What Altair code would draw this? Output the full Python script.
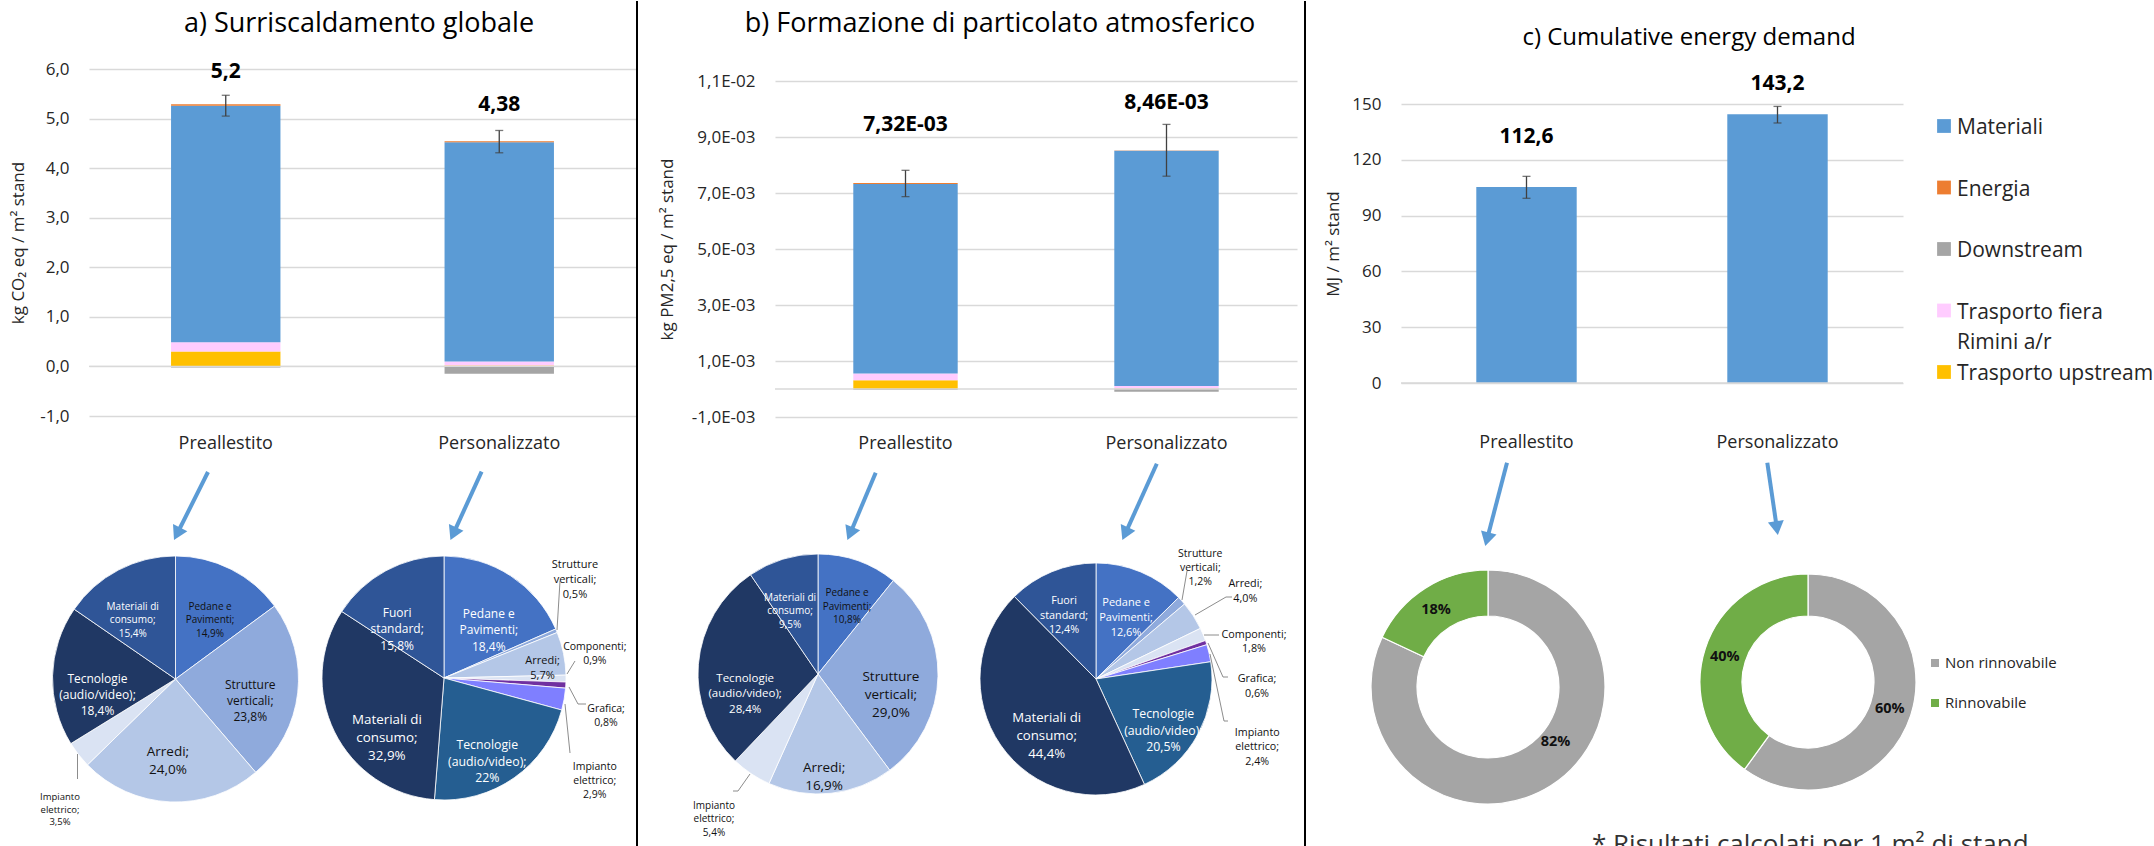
import math
import altair as alt
import pandas as pd

FONT = "Open Sans"
H = 846
TESTO = "#262626"
GRIGLIA = "#D9D9D9"
NERO, BIANCO = "#111111", "#FFFFFF"

# ---------------------------------------------------------------- dati barre
categorie = ["Preallestito", "Personalizzato"]
fasi = ["Materiali", "Energia", "Downstream", "Trasporto fiera Rimini a/r", "Trasporto upstream"]
ordine_pila = ["Trasporto upstream", "Trasporto fiera Rimini a/r", "Materiali", "Energia", "Downstream"]

# a) Surriscaldamento globale [kg CO2 eq / m2 stand]
gwp_materiali = [4.77, 4.42]
gwp_energia = [0.03, 0.02]
gwp_downstream = [-0.02, -0.15]
gwp_fiera = [0.19, 0.08]
gwp_upstream = [0.30, 0.02]
gwp_err_min = [5.05, 4.31]
gwp_err_max = [5.47, 4.76]
gwp_totale = [5.2, 4.38]

# b) Formazione di particolato atmosferico [kg PM2,5 eq / m2 stand]
pm_materiali = [6.77e-3, 8.40e-3]
pm_energia = [0.04e-3, 0.01e-3]
pm_downstream = [-0.04e-3, -0.10e-3]
pm_fiera = [0.24e-3, 0.09e-3]
pm_upstream = [0.31e-3, 0.02e-3]
pm_err_min = [6.87e-3, 7.60e-3]
pm_err_max = [7.81e-3, 9.45e-3]
pm_totale = [7.32e-3, 8.46e-3]

# c) Cumulative energy demand [MJ / m2 stand]
ced_materiali = [105.4, 144.5]
ced_energia = [0.0, 0.0]
ced_downstream = [0.0, 0.0]
ced_fiera = [0.0, 0.0]
ced_upstream = [0.0, 0.0]
ced_err_min = [99.3, 139.8]
ced_err_max = [111.1, 148.7]
ced_totale = [112.6, 143.2]

# ---------------------------------------------------------------- dati torte
voci_pre = ["Pedane e Pavimenti", "Strutture verticali", "Arredi", "Impianto elettrico",
            "Tecnologie (audio/video)", "Materiali di consumo"]
voci_pers = ["Pedane e Pavimenti", "Strutture verticali", "Arredi", "Componenti", "Grafica",
             "Impianto elettrico", "Tecnologie (audio/video)", "Materiali di consumo", "Fuori standard"]
gwp_quote_pre = [14.9, 23.8, 24.0, 3.5, 18.4, 15.4]
gwp_quote_pers = [18.4, 0.5, 5.7, 0.9, 0.8, 2.9, 22, 32.9, 15.8]
pm_quote_pre = [10.8, 29.0, 16.9, 5.4, 28.4, 9.5]
pm_quote_pers = [12.6, 1.2, 4.0, 1.8, 0.6, 2.4, 20.5, 44.4, 12.4]
fonti = ["Non rinnovabile", "Rinnovabile"]
ced_quote_pre = [82, 18]
ced_quote_pers = [60, 40]

# ---------------------------------------------------------------- stili
colori_fasi = ["#5B9BD5", "#ED7D31", "#A5A5A5", "#FFCCFF", "#FFC000"]
colori_pre = ["#4472C4", "#8FAADC", "#B4C7E7", "#DAE3F3", "#203864", "#2F5597"]
colori_pers = ["#4472C4", "#8FAADC", "#B4C7E7", "#DAE3F3", "#7030A0", "#7F7FFF",
               "#255E91", "#203864", "#2F5597"]
colori_fonti = ["#A5A5A5", "#70AD47"]
BLU_FRECCIA = "#5B9BD5"

righe_nomi = {
    "Pedane e Pavimenti": "Pedane e\nPavimenti;",
    "Strutture verticali": "Strutture\nverticali;",
    "Arredi": "Arredi;",
    "Impianto elettrico": "Impianto\nelettrico;",
    "Tecnologie (audio/video)": "Tecnologie\n(audio/video);",
    "Materiali di consumo": "Materiali di\nconsumo;",
    "Fuori standard": "Fuori\nstandard;",
    "Componenti": "Componenti;",
    "Grafica": "Grafica;",
}

# etichette torte: (scarto angolare in gradi, distanza dal centro px, corpo, colore)
etich_gwp_pre = [(-1.2, 80, 10, NERO), (-1.9, 75, 12, NERO), (3.4, 73, 13.5, NERO),
                 (-7.6, 165, 9.5, NERO), (-1.4, 78, 12, BIANCO), (-2.9, 84, 10, BIANCO)]
etich_gwp_pers = [(1.9, 78, 12, BIANCO), (-18.0, 173, 11, NERO), (1.9, 100, 11, NERO),
                  (-11.9, 154, 10.5, NERO), (7.5, 165, 10.5, NERO), (20.5, 175, 10.5, NERO),
                  (2.4, 80, 12.3, BIANCO), (-10.2, 71, 13.4, BIANCO), (-7.4, 80, 12, BIANCO)]
etich_pm_pre = [(0.3, 86, 10, NERO), (1.3, 73, 13.5, NERO), (2.6, 94, 13.5, NERO),
                (4.4, 168, 10, NERO), (-8.6, 73, 11.5, BIANCO), (-3.1, 81, 10, BIANCO)]
etich_pm_pers = [(-1.2, 82, 11, BIANCO), (-7.8, 163, 10.5, NERO), (0.6, 177, 10.8, NERO),
                 (7.0, 164, 10.8, NERO), (18.3, 161, 10.8, NERO), (31.4, 170, 10.7, NERO),
                 (-0.8, 76, 12.3, BIANCO), (-3.8, 63, 13.2, BIANCO), (0.0, 84, 10.8, BIANCO)]
etich_ced_pre = [(-18.6, 87, 14.5, NERO), (-1.6, 93, 14.5, NERO)]
etich_ced_pers = [(0.0, 86, 14.5, NERO), (-1.2, 87, 14.5, NERO)]

# linee guida delle etichette esterne (coordinate pagina)
guide_gwp = [[(77.5, 753), (77.5, 778)],
             [(557, 629), (560, 580)],
             [(567, 673), (575, 660)],
             [(569, 686), (578, 703), (586, 703)],
             [(565, 703), (570, 752)]]
guide_pm = [[(750, 773), (738, 790), (733, 790)],
            [(1182, 599), (1187, 570)],
            [(1195, 614), (1226, 596), (1232, 596)],
            [(1204, 634), (1219, 634)],
            [(1208, 642), (1223, 676), (1228, 676)],
            [(1210, 653), (1224, 720), (1228, 720)]]

# frecce barra -> torta (coordinate pagina: coda, punta)
frecce_gwp = [((208, 471), (173.5, 540)), ((481.6, 470.7), (450, 540))]
frecce_pm = [((875.7, 471.7), (847, 540)), ((1156.8, 462.7), (1121.9, 540))]
frecce_ced = [((1507, 461.7), (1485, 546)), ((1767.3, 461.7), (1778, 535))]


def virgola(v):
    return str(v).replace(".", ",")


def quota_txt(v):
    return str(v) if isinstance(v, int) else f"{v:.1f}".replace(".", ",")


def pila(materiali, energia, downstream, fiera, upstream):
    valori = {"Materiali": materiali, "Energia": energia, "Downstream": downstream,
              "Trasporto fiera Rimini a/r": fiera, "Trasporto upstream": upstream}
    righe = []
    for i, cat in enumerate(categorie):
        pos = neg = 0.0
        for fase in ordine_pila:
            v = valori[fase][i]
            if v >= 0:
                a, b = pos, pos + v
                pos = b
            else:
                a, b = neg, neg + v
                neg = b
            righe.append({"categoria": cat, "fase": fase, "y0": a, "y1": b})
    return pd.DataFrame(righe)


def una_riga():
    return pd.DataFrame({"k": [0]})


def torta(voci, quote, colori, etich, centro, r, x0, r_in=0, grassetto=False, con_nome=True):
    cx, cy = centro[0] - x0, centro[1]
    tot = sum(quote)
    righe, cum = [], 0.0
    for k, (nome, v) in enumerate(zip(voci, quote)):
        meta = (cum + v / 2) / tot * 360
        cum += v
        scarto, dist, corpo, col = etich[k]
        testo = (righe_nomi[nome] + "\n" if con_nome else "") + quota_txt(v) + "%"
        righe.append({"voce": nome, "quota": v, "k": k, "colore": colori[k],
                      "ang": (meta + scarto) % 360, "dist": dist, "testo": testo,
                      "corpo": corpo, "col": col})
    df = pd.DataFrame(righe)
    strati = [
        alt.Chart(df).mark_arc(outerRadius=r, innerRadius=r_in, stroke="white",
                               strokeWidth=1.2 if r_in else 0.8).encode(
            theta=alt.Theta("quota:Q", stack=True),
            order=alt.Order("k:Q"),
            color=alt.Color("colore:N", scale=None),
            x=alt.value(cx), y=alt.value(cy))
    ]
    for k in range(len(df)):
        corpo = float(df.loc[k, "corpo"])
        strati.append(
            alt.Chart(df.iloc[[k]]).mark_text(
                font=FONT, fontSize=corpo, lineHeight=round(corpo * 1.35, 1), lineBreak="\n",
                align="center", baseline="middle",
                fontWeight="bold" if grassetto else "normal").encode(
                theta=alt.Theta("ang:Q", stack=False,
                                scale=alt.Scale(domain=[0, 360], range=[0, 2 * math.pi])),
                radius=alt.Radius("dist:Q", scale=None),
                text="testo:N",
                color=alt.Color("col:N", scale=None),
                x=alt.value(cx), y=alt.value(cy)))
    return strati


def guide(linee, x0):
    righe = []
    for i, linea in enumerate(linee):
        for k, (x, y) in enumerate(linea):
            righe.append({"id": i, "k": k, "x": x - x0, "y": y})
    return alt.Chart(pd.DataFrame(righe)).mark_line(color="#7F7F7F", strokeWidth=0.9).encode(
        x=alt.X("x:Q", scale=None), y=alt.Y("y:Q", scale=None),
        detail="id:N", order="k:Q")


def frecce(lista, x0):
    aste, punte = [], []
    for (xa, ya), (xb, yb) in lista:
        dx, dy = xb - xa, yb - ya
        l = math.hypot(dx, dy)
        ux, uy = dx / l, dy / l
        aste.append({"x": xa - x0, "y": ya, "x2": xb - 12 * ux - x0, "y2": yb - 12 * uy})
        punte.append({"x": xb - 8 * ux - x0, "y": yb - 8 * uy,
                      "ang": math.degrees(math.atan2(dx, -dy)) % 360})
    asta = alt.Chart(pd.DataFrame(aste)).mark_rule(color=BLU_FRECCIA, strokeWidth=4).encode(
        x=alt.X("x:Q", scale=None), y=alt.Y("y:Q", scale=None), x2="x2:Q", y2="y2:Q")
    punta = alt.Chart(pd.DataFrame(punte)).mark_point(
        shape="triangle-up", filled=True, size=256, color=BLU_FRECCIA, opacity=1,
        strokeWidth=0).encode(
        x=alt.X("x:Q", scale=None), y=alt.Y("y:Q", scale=None),
        angle=alt.Angle("ang:Q", scale=None))
    return [asta, punta]


def pannello(x0, w, px, py, dominio, tick_val, tick_expr, titolo_asse, titolo_asse_x,
             pad_x, df_pila, err_min, err_max, totali, testo_tot, pos_tot,
             titolo, titolo_xy, titolo_corpo):
    xl, xr = px[0] - x0, px[1] - x0
    yb, yt = py
    x_enc = alt.X(
        "categoria:N", sort=categorie, title=None,
        scale=alt.Scale(domain=categorie, range=[xl, xr], paddingInner=0.6, paddingOuter=0.3),
        axis=alt.Axis(orient="bottom", offset=-(H - yb), labelFont=FONT, labelFontSize=18,
                      labelColor=TESTO, labelPadding=pad_x, ticks=False, tickSize=0,
                      domain=False, labelAngle=0, grid=False))
    y_scala = alt.Scale(domain=list(dominio), range=[yb, yt], nice=False, zero=False)
    y_asse = alt.Axis(
        orient="left", offset=-xl, values=tick_val, labelExpr=tick_expr, labelFont=FONT,
        labelFontSize=17, labelColor=TESTO, labelPadding=20, ticks=False, tickSize=0,
        domain=False, grid=True, gridColor=GRIGLIA, gridWidth=1.3,
        titleFont=FONT, titleFontSize=17, titleFontWeight="normal", titleColor=TESTO,
        titleAngle=270, titleBaseline="middle", titleAlign="center",
        titleX=(titolo_asse_x - x0) - xl, titleY=(yb + yt) / 2)

    def Y(campo):
        return alt.Y(campo, scale=y_scala, axis=y_asse, title=titolo_asse)

    strati = []
    strati.append(alt.Chart(df_pila).mark_bar(strokeWidth=0).encode(
        x=x_enc, y=Y("y0:Q"), y2="y1:Q",
        color=alt.Color("fase:N", scale=alt.Scale(domain=fasi, range=colori_fasi), legend=None)))
    strati.append(alt.Chart(pd.DataFrame({"z": [0.0]})).mark_rule(
        color=GRIGLIA, strokeWidth=1.3).encode(
        y=Y("z:Q"), x=alt.value(xl), x2=alt.value(xr)))
    df_err = pd.DataFrame({"categoria": categorie, "lo": err_min, "hi": err_max})
    strati.append(alt.Chart(df_err).mark_rule(color="#404040", strokeWidth=1.3).encode(
        x=x_enc, y=Y("lo:Q"), y2="hi:Q"))
    strati.append(alt.Chart(df_err).transform_fold(["lo", "hi"], as_=["estremo", "v"]).mark_tick(
        color="#404040", size=8, thickness=1.3, orient="horizontal").encode(
        x=x_enc, y=Y("v:Q")))
    df_tot = pd.DataFrame({"categoria": categorie, "pos": pos_tot,
                           "testo": [testo_tot(v) for v in totali]})
    strati.append(alt.Chart(df_tot).mark_text(
        font=FONT, fontSize=21, fontWeight="bold", color="#000000", baseline="middle").encode(
        x=x_enc, y=Y("pos:Q"), text="testo:N"))
    strati.append(alt.Chart(una_riga()).mark_text(
        font=FONT, fontSize=titolo_corpo, color="#000000", align="center", baseline="middle").encode(
        x=alt.value(titolo_xy[0] - x0), y=alt.value(titolo_xy[1]), text=alt.value(titolo)))
    return strati


# ---------------------------------------------------------------- pannello a
X0_A, W_A = 0, 637
strati_a = pannello(
    X0_A, W_A, (89, 636), (415, 68), (-1, 6), [-1, 0, 1, 2, 3, 4, 5, 6],
    "replace(replace(format(datum.value, '.1f'), '.', ','), '\u2212', '-')",
    "kg CO\u2082 eq / m\u00b2 stand", 18, 18,
    pila(gwp_materiali, gwp_energia, gwp_downstream, gwp_fiera, gwp_upstream),
    gwp_err_min, gwp_err_max, gwp_totale, virgola, [5.93, 5.28],
    "a) Surriscaldamento globale", (359, 23), 27)
strati_a += torta(voci_pre, gwp_quote_pre, colori_pre, etich_gwp_pre, (175.5, 678), 123, X0_A)
strati_a += torta(voci_pers, gwp_quote_pers, colori_pers, etich_gwp_pers, (444, 677), 122, X0_A)
strati_a.append(guide(guide_gwp, X0_A))
strati_a += frecce(frecce_gwp, X0_A)
strati_a.append(alt.Chart(una_riga()).mark_rule(color="#000000", strokeWidth=2).encode(
    x=alt.value(W_A), y=alt.value(0), y2=alt.value(H)))
pan_a = alt.layer(*strati_a).resolve_scale(theta="independent").properties(width=W_A, height=H)

# ---------------------------------------------------------------- pannello b
X0_B, W_B = 637, 668
strati_b = pannello(
    X0_B, W_B, (775, 1297), (416, 80), (-0.001, 0.011),
    [-0.001, 0.001, 0.003, 0.005, 0.007, 0.009, 0.011],
    "replace(replace(replace(format(datum.value, '.1e'), '.', ','), 'e-', 'E-0'), '\u2212', '-')",
    "kg PM2,5 eq / m\u00b2 stand", 667, 17,
    pila(pm_materiali, pm_energia, pm_downstream, pm_fiera, pm_upstream),
    pm_err_min, pm_err_max, pm_totale, lambda v: f"{v:.2E}".replace(".", ","),
    [9.43e-3, 10.21e-3],
    "b) Formazione di particolato atmosferico", (1000, 23), 27)
strati_b += torta(voci_pre, pm_quote_pre, colori_pre, etich_pm_pre, (818, 673), 120, X0_B)
strati_b += torta(voci_pers, pm_quote_pers, colori_pers, etich_pm_pers, (1096, 678), 116, X0_B)
strati_b.append(guide(guide_pm, X0_B))
strati_b += frecce(frecce_pm, X0_B)
strati_b.append(alt.Chart(una_riga()).mark_rule(color="#000000", strokeWidth=2).encode(
    x=alt.value(W_B), y=alt.value(0), y2=alt.value(H)))
pan_b = alt.layer(*strati_b).resolve_scale(theta="independent").properties(width=W_B, height=H)

# ---------------------------------------------------------------- pannello c
X0_C, W_C = 1305, 849
strati_c = pannello(
    X0_C, W_C, (1401, 1903), (382, 103), (0, 150), [0, 30, 60, 90, 120, 150],
    "format(datum.value, 'd')",
    "MJ / m\u00b2 stand", 1333, 50,
    pila(ced_materiali, ced_energia, ced_downstream, ced_fiera, ced_upstream),
    ced_err_min, ced_err_max, ced_totale, virgola, [132.3, 160.8],
    "c) Cumulative energy demand", (1689, 37), 24)
strati_c += torta(fonti, ced_quote_pre, colori_fonti, etich_ced_pre, (1488, 686), 117, X0_C,
                  r_in=71, grassetto=True, con_nome=False)
strati_c += torta(fonti, ced_quote_pers, colori_fonti, etich_ced_pers, (1808, 681), 108, X0_C,
                  r_in=66, grassetto=True, con_nome=False)
strati_c += frecce(frecce_ced, X0_C)

# legenda delle fasi
leg = pd.DataFrame({"fase": fasi, "colore": colori_fasi,
                    "etichetta": [f.replace(" Rimini", "\nRimini") for f in fasi]})
leg["y"] = [125 + 61.5 * i for i in range(len(leg))]
strati_c.append(alt.Chart(leg).mark_square(size=190, opacity=1).encode(
    x=alt.value(1944 - X0_C), y=alt.Y("y:Q", scale=None), color=alt.Color("colore:N", scale=None)))
strati_c.append(alt.Chart(leg).mark_text(
    font=FONT, fontSize=21, lineHeight=30, lineBreak="\n", align="left", baseline="top",
    dy=-9, color=TESTO).encode(
    x=alt.value(1957 - X0_C), y=alt.Y("y:Q", scale=None), text="etichetta:N"))

# legenda delle fonti energetiche
leg2 = pd.DataFrame({"fonte": fonti, "colore": colori_fonti})
leg2["y"] = [662 + 40 * i for i in range(len(leg2))]
strati_c.append(alt.Chart(leg2).mark_square(size=64, opacity=1).encode(
    x=alt.value(1935 - X0_C), y=alt.Y("y:Q", scale=None), color=alt.Color("colore:N", scale=None)))
strati_c.append(alt.Chart(leg2).mark_text(
    font=FONT, fontSize=15, align="left", baseline="middle", color=TESTO).encode(
    x=alt.value(1945 - X0_C), y=alt.Y("y:Q", scale=None), text="fonte:N"))

# nota a piè di pagina
strati_c.append(alt.Chart(una_riga()).mark_text(
    font=FONT, fontSize=26, align="left", baseline="alphabetic", color="#333333", clip=True).encode(
    x=alt.value(1592 - X0_C), y=alt.value(852),
    text=alt.value("* Risultati calcolati per 1 m\u00b2 di stand")))
pan_c = alt.layer(*strati_c).resolve_scale(theta="independent").properties(width=W_C, height=H)

chart = (
    alt.hconcat(pan_a, pan_b, pan_c, spacing=0, bounds="flush")
    .properties(padding=0, background="white")
    .configure_view(stroke=None)
)

chart.save("out.html", embed_options={"renderer": "svg", "actions": False})
